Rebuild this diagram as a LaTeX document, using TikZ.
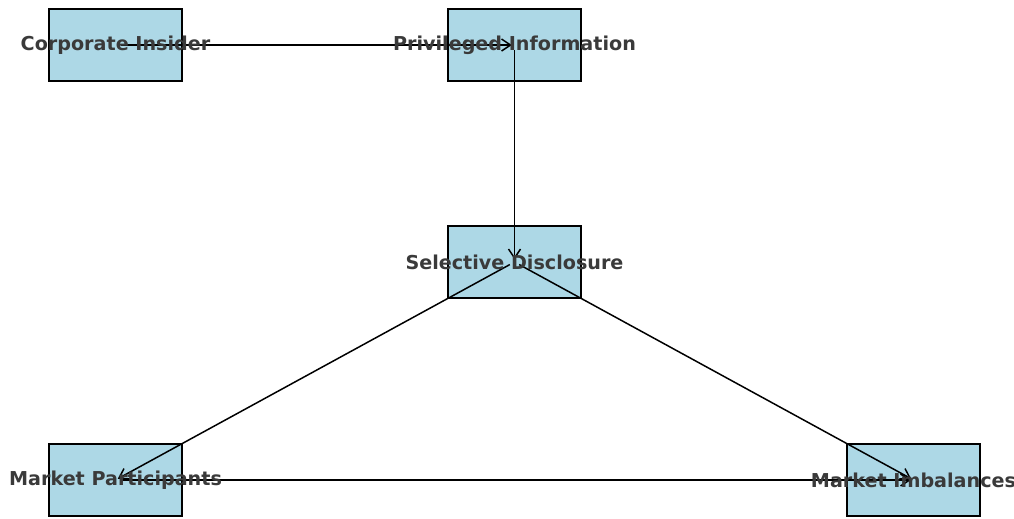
\documentclass[tikz,border=0pt]{standalone}
\usepackage{fontspec}
\setmainfont{DejaVu Sans}
\usepackage{tikz}
\usetikzlibrary{arrows.meta, positioning, calc}
\definecolor{boxblue}{HTML}{ADD8E6}
\definecolor{labelgray}{HTML}{3A3A3A}

\begin{document}
\begin{tikzpicture}[
  x=0.02cm, y=-0.02cm,
  box/.style={rectangle, draw, fill=boxblue, line width=0.9pt,
              minimum width=2.66cm, minimum height=1.44cm, inner sep=0pt},
  lbl/.style={font=\fontsize{10.9}{13}\selectfont\bfseries, text=labelgray,
              inner sep=0pt},
  arrow/.style={-{Straight Barb[length=1.8mm, width=2.4mm]}, line width=0.85pt,
                shorten <=3pt, shorten >=1.5pt}
]
  \useasboundingbox (0,0) rectangle (1014,518);

  % boxes
  \node[box] (insider) at (115.5,45) {};
  \node[box] (privinfo) at (514.5,45) {};
  \node[box] (selective) at (514.5,262) {};
  \node[box] (participants) at (115.5,480) {};
  \node[box] (imbalances) at (913.5,480) {};

  % edges, centre to centre
  \draw[arrow] (insider.center) -- (privinfo.center);
  \draw[arrow] (privinfo.center) -- (selective.center);
  \draw[arrow] (selective.center) -- (participants.center);
  \draw[arrow] (selective.center) -- (imbalances.center);
  \draw[arrow] (participants.center) -- (imbalances.center);

  % labels on top
  \node[lbl] (insider-t) at (insider) {Corporate Insider};
  \node[lbl] (privinfo-t) at (privinfo) {Privileged Information};
  \node[lbl] (selective-t) at (selective) {Selective Disclosure};
  \node[lbl] (participants-t) at (participants) {Market Participants};
  \node[lbl] (imbalances-t) at (imbalances) {Market Imbalances};
\end{tikzpicture}
\end{document}
